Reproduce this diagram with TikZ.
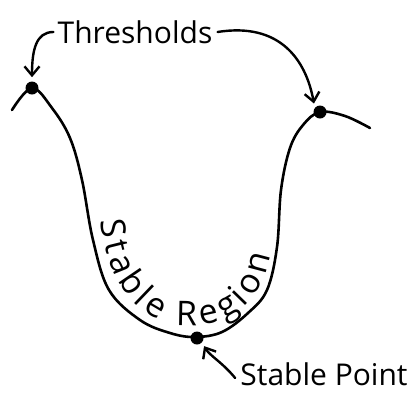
\documentclass[tikz,border=0pt]{standalone}
\usepackage{fontspec}
\setmainfont{Open Sans}
\usetikzlibrary{arrows.meta,decorations.text}
\begin{document}
\begin{tikzpicture}[x=1pt,y=-1pt, line width=2.6pt, line cap=round, line join=round,
  dotnode/.style={circle,fill=black,inner sep=0pt,minimum size=13pt},
  lbl/.style={font=\fontsize{30}{34}\selectfont, inner sep=0pt},
  arr/.style={-{Straight Barb[length=9pt,width=15pt]}, line width=2.4pt, shorten >=3pt}]
\useasboundingbox (0,0) rectangle (419,405);
% main curve
\draw plot[smooth, tension=0.6] coordinates {(12,110) (32,88) (52,108) (70,138) (82,180) (93,240) (109,290) (140,320) (170,333) (195,337) (222,332) (248,313) (267,290) (277,247) (281,190) (290,148) (303,125) (320,112) (345,116) (370,128)};
% dots
\node[dotnode] (d1) at (32,88) {};
\node[dotnode] (d2) at (320,112) {};
\node[dotnode] (d3) at (197,338) {};
% labels
\node[lbl] (th) at (135,32) {Thresholds};
\node[lbl] (sp) at (324,374) {Stable Point};
% arrows
\draw[arr] ([xshift=-3pt]th.west) .. controls (36,32) and (32,50) .. (d1.north);
\draw[arr] ([xshift=4pt]th.east) .. controls (280,22) and (306,60) .. (d2.north west);
\draw[arr] ([xshift=-4pt,yshift=-4pt]sp.west) .. controls (222,362) and (210,356) .. (d3.south east);
% text along the curve
\path[decorate, decoration={text along path, text align={fit to path},
  text={|\fontsize{34}{36}\selectfont|Stable Region}}]
  (101,220) .. controls (106,284) and (140,324) .. (186,326) .. controls (234,327) and (262,300) .. (270,255);
\end{tikzpicture}
\end{document}
